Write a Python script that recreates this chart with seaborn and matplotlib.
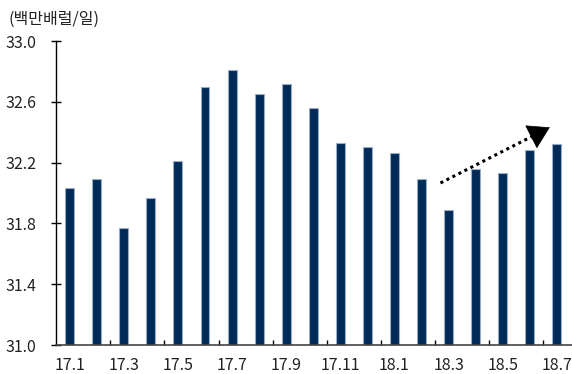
import matplotlib
matplotlib.use("Agg")
import matplotlib.pyplot as plt
import seaborn as sns
import pandas as pd
from matplotlib.ticker import FixedLocator

months = ["17.1", "17.2", "17.3", "17.4", "17.5", "17.6", "17.7", "17.8", "17.9", "17.10",
          "17.11", "17.12", "18.1", "18.2", "18.3", "18.4", "18.5", "18.6", "18.7"]
values = [32.03, 32.09, 31.77, 31.97, 32.21, 32.70, 32.81, 32.65, 32.72, 32.56,
          32.33, 32.30, 32.26, 32.09, 31.89, 32.16, 32.13, 32.28, 32.32]
tick_labels = ["17.1", "17.3", "17.5", "17.7", "17.9", "17.11", "18.1", "18.3", "18.5", "18.7"]
y_ticks = [31.0, 31.4, 31.8, 32.2, 32.6, 33.0]
unit_label = "(백만배럴/일)"

sns.set_theme(style="white")
plt.rcParams['font.family'] = ['Noto Sans CJK KR', 'DejaVu Sans']

df = pd.DataFrame({"month": months, "value": values})

fig = plt.figure(figsize=(5.72, 3.74), dpi=100)
ax = fig.add_axes([56/572, 1 - 345/374, 1 - 56/572, (345 - 41)/374])

sns.barplot(data=df, x="month", y="value", order=months, color="#002b57",
            saturation=1, width=0.33, edgecolor="#9aadc7", linewidth=0.8, ax=ax)

ax.set_ylim(31.0, 33.0)
ax.set_xlim(-0.505, 18.56)
ax.set_yticks(y_ticks)
ax.set_yticklabels([f"{v:.1f}" for v in y_ticks])
ax.set_xticks([months.index(t) for t in tick_labels])
ax.set_xticklabels(tick_labels)
ax.xaxis.set_minor_locator(FixedLocator([i + 1.5 for i in range(0, 18, 2)]))
ax.set_xlabel("")
ax.set_ylabel("")

ax.tick_params(axis="y", which="major", direction="inout", length=6.5, width=1,
               color="black", pad=11, labelsize=11.5, labelcolor="#222222", left=True)
ax.tick_params(axis="x", which="major", length=0, pad=9, labelsize=11.5, labelcolor="#222222")
ax.tick_params(axis="x", which="minor", direction="in", length=3.5, width=1,
               color="black", bottom=True)

for s in ["top", "right"]:
    ax.spines[s].set_visible(False)
ax.spines["left"].set_color("black")
ax.spines["left"].set_linewidth(1)
ax.spines["bottom"].set_color("#444444")
ax.spines["bottom"].set_linewidth(1.2)

# trend arrow
x0, y0 = 13.7, 32.066
x1, y1 = 17.83, 32.44
ax.plot([x0, x1 - 0.25], [y0, y1 - 0.0226], linestyle=(0, (1, 1.2)), color="black",
        linewidth=2.2, solid_capstyle="butt", dash_capstyle="butt")
ax.annotate("", xy=(x1, y1), xytext=(x1 - 0.4, y1 - 0.0362),
            arrowprops=dict(arrowstyle="-|>,head_length=0.9,head_width=0.55",
                            color="black", lw=0.5, mutation_scale=16))

fig.text(8/572, 1 - 19/374, unit_label, fontsize=11.5, color="#222222",
         ha="left", va="center")

fig.savefig("out.png", dpi=100)
